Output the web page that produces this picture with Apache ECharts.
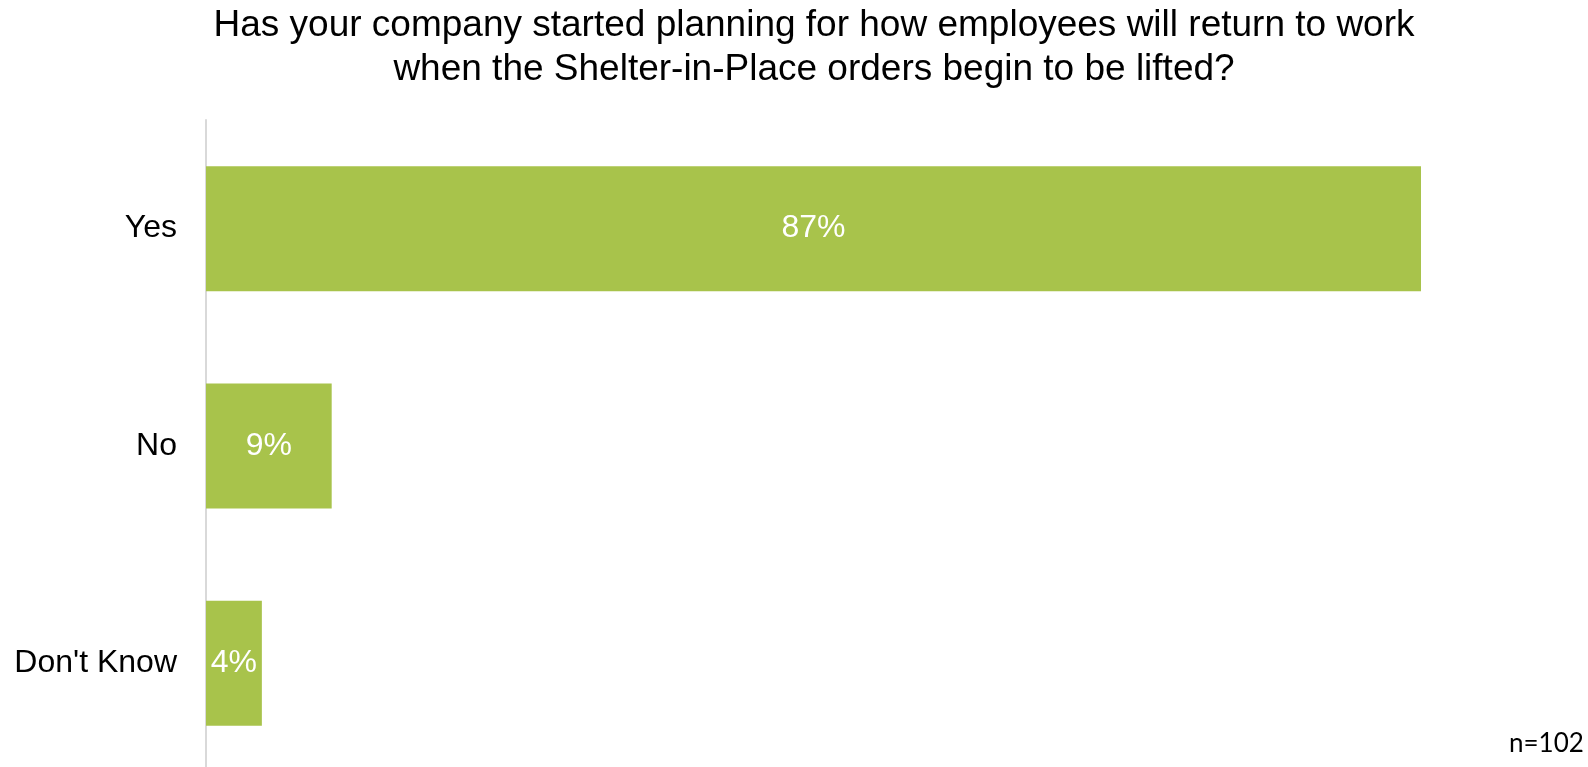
<!DOCTYPE html>
<html>
<head>
<meta charset="utf-8">
<script src="https://cdn.jsdelivr.net/npm/echarts@6/dist/echarts.min.js"></script>
<style>html,body{margin:0;padding:0;background:#fff;overflow:hidden}#c{width:1588px;height:780px}</style>
</head>
<body>
<div id="c"></div>
<script>
var categories = ["Yes", "No", "Don't Know"];
var values = [87, 9, 4];
var titleLines = ["Has your company started planning for how employees will return to work", "when the Shelter-in-Place orders begin to be lifted?"];
var note = "n=102";

var chart = echarts.init(document.getElementById('c'));
chart.setOption({
  backgroundColor: '#ffffff',
  animation: false,
  title: {
    text: titleLines.join('\n'),
    left: 814,
    top: 4,
    padding: 0,
    textAlign: 'center',
    textStyle: {fontFamily: 'Liberation Sans', fontSize: 37, fontWeight: 'normal', color: '#000', lineHeight: 44}
  },
  graphic: [{
    type: 'text', left: 1509, top: 731,
    style: {text: note, fontFamily: 'Lato', fontSize: 26, fill: '#000'}
  }],
  grid: {left: 206, top: 120, width: 1215, height: 652, containLabel: false},
  xAxis: {
    type: 'value', min: 0, max: 'dataMax',
    axisLine: {show: false}, axisTick: {show: false}, axisLabel: {show: false}, splitLine: {show: false}
  },
  yAxis: {
    type: 'category', data: categories, inverse: true,
    axisLine: {show: true, lineStyle: {color: '#d9d9d9', width: 2}},
    axisTick: {show: false},
    axisLabel: {fontFamily: 'Liberation Sans', fontSize: 32, color: '#000', margin: 29}
  },
  series: [{
    type: 'bar', data: values, barWidth: 125,
    itemStyle: {color: '#A8C34B'},
    label: {show: true, position: 'inside', formatter: '{c}%', fontFamily: 'Liberation Sans', fontSize: 32, color: '#fff'}
  }]
});
</script>
</body>
</html>
